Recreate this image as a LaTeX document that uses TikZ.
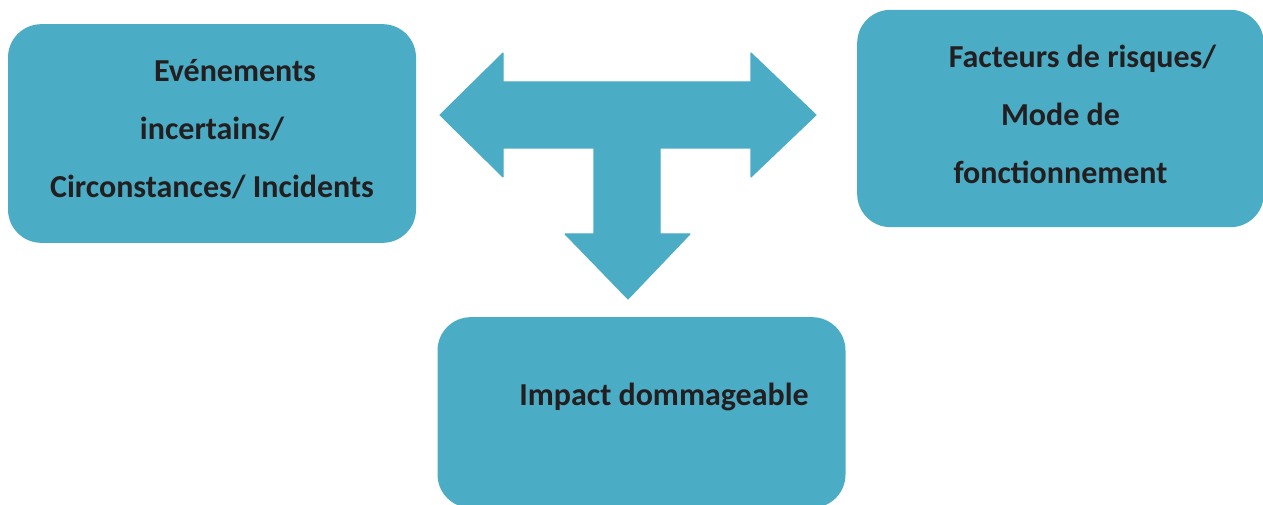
\documentclass[tikz,border=0pt]{standalone}
\usepackage{fontspec}
\setmainfont{Carlito}
\definecolor{bleu}{HTML}{4BACC6}
\definecolor{encre}{HTML}{231F20}
\begin{document}
\begin{tikzpicture}[x=0.75pt,y=-0.75pt, line join=round, font=\fontsize{24}{43.5}\selectfont\bfseries,
	boite/.style={fill=bleu, rounded corners=25pt, inner sep=0pt},
	texte/.style={text=encre, align=center, inner sep=0pt}]
	\def\lw{306pt} \def\lh{164pt} % taille des boites
	\useasboundingbox (0,0) rectangle (1263,505);
	% boites
	\node[boite, minimum width=\lw, minimum height=\lh] (evt) at (212,133.5) {};
	\node[boite, minimum width=305pt, minimum height=163pt] (fact) at (1060.5,118.5) {};
	\node[boite, minimum width=\lw, minimum height=143pt] (imp) at (641.5,412.5) {};
	% textes
	\node[texte] (evtt) at (212,129) {\hspace*{34.5pt}Evénements\\ incertains/\\ Circonstances/ Incidents};
	\node[texte] (factt) at (1060.5,114) {\hspace*{33pt}Facteurs de risques/\\ Mode de\\ fonctionnement};
	\node[texte] (impt) at (664,397) {Impact dommageable};
	% fleche en T
	\fill[bleu, draw=bleu, line width=0.8pt] (440,115)--(503,53)--(503,82)--(751,82)--(751,53)--(816,115)
		--(751,177)--(751,148)--(660,148)--(660,234)--(690,234)--(628,299)--(565,234)--(594,234)
		--(594,148)--(503,148)--(503,177)--cycle;
\end{tikzpicture}
\end{document}
